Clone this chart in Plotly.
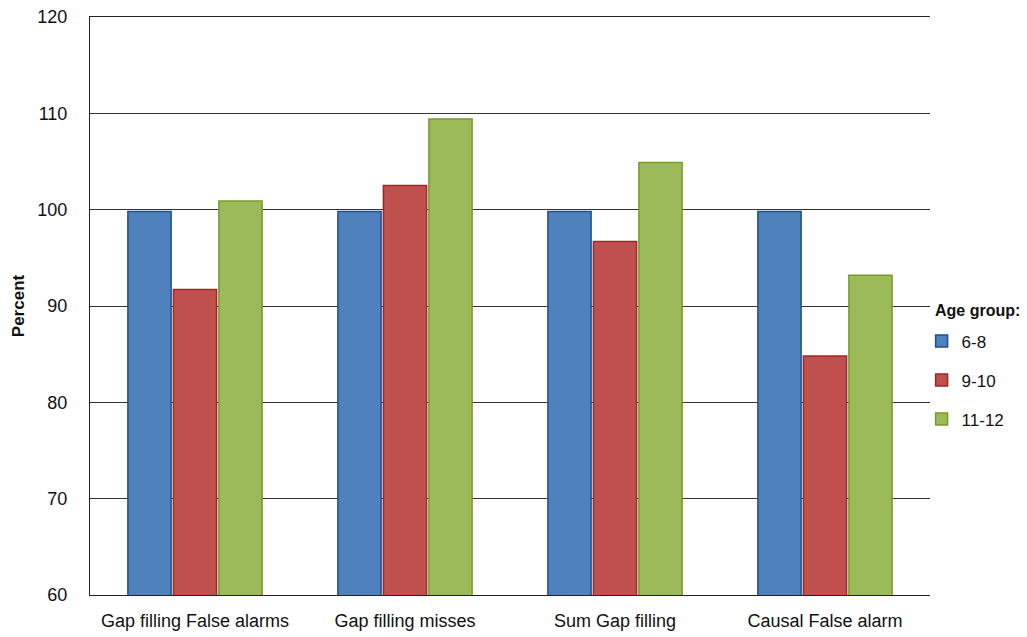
import plotly.graph_objects as go

# Chart data
categories = ["Gap filling False alarms", "Gap filling misses", "Sum Gap filling", "Causal False alarm"]
age_6_8 = [99.8, 99.8, 99.8, 99.8]
age_9_10 = [91.7, 102.5, 96.7, 84.8]
age_11_12 = [100.9, 109.4, 104.9, 93.2]
series_names = ["6-8", "9-10", "11-12"]
y_ticks = [60, 70, 80, 90, 100, 110, 120]

fills = ["#4f81bd", "#c0504d", "#9bbb59"]
edges = ["#1f4f94", "#9b2a26", "#7a9a2c"]

fig = go.Figure()
for i, (name, vals) in enumerate(zip(series_names, [age_6_8, age_9_10, age_11_12])):
    fig.add_trace(go.Bar(
        x=categories, y=vals, name=name,
        marker=dict(color=fills[i], line=dict(color=edges[i], width=1.5)),
        legendgroup=name,
    ))

font = "Liberation Sans"
fig.update_layout(
    width=1027, height=637,
    margin=dict(l=90, r=97, t=17, b=42, autoexpand=False),
    paper_bgcolor="white", plot_bgcolor="white",
    barmode="group", bargap=0.35, bargroupgap=0.05,
    font=dict(family=font, size=18, color="#111111"),
    xaxis=dict(showline=True, mirror=True, linecolor="#222222", linewidth=1, ticks="",
               tickfont=dict(size=18, family=font), ticklabelstandoff=9, automargin=False),
    yaxis=dict(range=[60, 120], tickvals=y_ticks, showgrid=True,
               gridcolor="#333333", gridwidth=1, showline=True,
               linecolor="#222222", linewidth=1, ticks="", automargin=False,
               tickfont=dict(size=18, family=font), ticklabelstandoff=18,
               title=dict(text="<b>Percent</b>", font=dict(size=17, family=font), standoff=8)),
    legend=dict(x=0.99, xanchor="left", y=0.47, yanchor="top",
                font=dict(size=17), tracegroupgap=14,
                bgcolor="rgba(0,0,0,0)"),
    annotations=[dict(text="<b>Age group:</b>", xref="paper", yref="paper",
                      x=1.004, xanchor="left", y=0.492, yanchor="middle",
                      showarrow=False, font=dict(size=16, family=font))],
)

fig.write_html("out.html")
